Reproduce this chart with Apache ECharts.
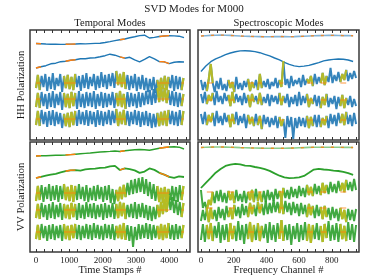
<!DOCTYPE html>
<html><head><meta charset="utf-8">
<script src="https://cdn.jsdelivr.net/npm/echarts/dist/echarts.min.js"></script>
<style>html,body{margin:0;padding:0;background:#fff}#c{width:374px;height:280px}</style>
</head><body><div id="c"></div><script>
// ---------- text ----------
const TITLE = 'SVD Modes for M000';
const COL_TITLES = ['Temporal Modes', 'Spectroscopic Modes'];
const ROW_TITLES = ['HH Polarization', 'VV Polarization'];
const X_NAMES = ['Time Stamps #', 'Frequency Channel #'];
const T_LABELS = [0, 1000, 2000, 3000, 4000];
const S_LABELS = [0, 200, 400, 600, 800];

// ---------- sampling ----------
const T_SMOOTH_STEP = 148, T_NOISE_STEP = 56;
const S_SMOOTH_STEP = 30, S_NOISE_STEP = 12;
const T_SEGS = [[0,150],[840,1200],[2380,2700],[3640,4010],[4360,4440]];
const S_SEGS = [[36,72],[168,204],[288,324],[348,372],[480,504],[648,684],[732,768],[852,888]];

// ---------- HH temporal ----------
const hhT1 = [96.5,96.3,96.0,95.8,95.9,95.6,95.7,95.9,96.0,96.2,96.1,96.4,96.6,96.8,97.5,98.4,99.4,100.3,101.0,102.2,103.2,104.4,104.8,102.0,102.6,103.5,104.0,104.4,104.1,103.8,102.4];
const hhT2 = [72.0,73.2,74.3,76.2,76.8,78.3,78.8,79.8,80.3,81.2,81.3,82.0,82.3,83.2,84.3,85.8,84.8,83.2,81.8,82.7,80.1,78.2,80.7,83.4,81.2,78.4,78.2,76.4,77.7,78.3,78.0];
const hhT3 = [52,65,50,64,53,66,49,63,51,67,50,62,54,66,48,64,52,65,51,63,
 50,66,53,64,49,65,52,67,51,63,54,66,50,64,52,68,53,65,51,66,
 54,67,52,69,55,66,53,68,51,65,50,64,52,66,49,63,51,65,50,62,
 48,61,50,63,47,60,49,62,51,64,50,63,52,65,49,64,51,63,50,62];
const hhT4 = [33,47,32,48,34,46,31,47,33,49,32,46,35,48,30,47,33,46,32,48,
 34,47,31,49,33,46,32,48,34,47,33,49,31,46,34,48,32,47,33,46,
 35,48,32,47,34,49,33,46,31,48,33,47,34,46,32,48,33,47,35,49,
 36,50,35,51,37,52,38,53,39,52,37,50,35,49,34,48,33,47,34,46];
const hhT5 = [15,29,14,30,16,28,13,29,15,30,14,28,16,27,12,26,14,27,13,28,
 15,29,14,30,16,28,15,30,14,29,16,28,13,30,15,29,14,28,16,30,
 15,29,17,31,14,28,16,30,15,29,14,28,16,30,15,29,13,28,15,29,
 14,27,12,26,13,27,14,28,15,29,14,30,16,29,15,28,14,30,15,29];
const hhTLevels = [57, 41, 21];

// ---------- HH spectroscopic ----------
const hhS1 = [104.0,104.3,104.6,104.8,104.9,104.8,104.6,104.3,104.0,103.8,103.6,103.5,103.4,103.3,103.3,103.4,103.5,103.4,103.3,103.4,103.6,103.8,104.0,104.2,104.4,104.5,104.6,104.6,104.5,104.4,104.4,104.3];
const hhS2 = [68.5,74.0,78.3,81.2,83.1,85.4,87.0,88.2,89.1,89.3,89.0,88.4,87.3,85.7,84.1,82.0,80.1,77.6,75.6,74.1,73.4,73.9,74.6,76.0,77.4,79.1,80.0,80.6,81.0,80.7,80.0,78.5];
const hhS3 = [60,50,58,49,61,76,57,48,59,51,62,50,56,49,60,52,58,48,63,51,
 57,50,59,53,61,49,58,52,60,50,66,52,59,53,61,51,58,54,62,52,
 60,53,79,55,61,52,64,54,60,56,62,53,65,55,61,57,64,54,66,56,
 63,57,67,55,64,58,72,57,65,59,68,58,66,60,70,59,67,61,69,62];
const hhS4 = [46,37,48,36,45,39,47,35,49,38,44,36,47,39,45,34,48,37,46,38,
 44,35,47,37,45,33,46,38,44,36,47,35,43,37,46,34,45,38,44,36,
 47,35,44,37,46,33,43,36,45,34,48,35,44,37,46,33,42,36,45,34,
 44,32,43,35,46,33,42,36,44,31,43,34,45,32,42,35,44,33,41,34];
const hhS5 = [26,16,28,15,25,18,27,14,29,17,24,15,27,18,25,13,26,16,28,15,
 24,17,26,12,25,16,23,14,26,15,24,11,25,16,23,13,22,15,24,12,
 23,14,21,2,24,13,23,1,22,12,23,14,22,13,24,12,23,14,25,13,
 25,13,22,15,24,12,26,16,25,14,27,17,26,15,28,16,25,14,27,16];
const hhSLevels = [57, 40, 20];

// ---------- VV temporal ----------
const vvT1 = [96.0,96.2,96.3,96.5,96.7,96.8,97.0,97.4,97.8,98.2,98.6,99.0,99.5,100.0,100.3,100.6,101.0,100.5,101.2,101.8,102.2,102.5,102.2,101.8,102.8,103.8,104.5,105.0,105.3,104.8,103.0];
const vvT2 = [74.0,75.2,76.3,77.4,78.2,79.6,80.8,81.7,81.9,81.3,82.6,83.1,83.4,84.2,84.4,85.6,86.1,82.0,83.6,82.9,81.6,79.1,80.4,83.6,82.1,79.2,77.4,75.1,74.2,75.6,75.0];
const vvT3 = [51,66,52,67,50,65,53,68,51,66,52,67,50,66,53,68,52,65,51,67,
 50,66,52,68,53,65,51,67,50,64,52,66,51,67,53,65,50,66,52,67,
 49,63,48,62,51,65,53,67,55,69,57,72,58,73,59,74,60,75,58,73,
 56,70,53,68,51,66,50,64,49,65,50,63,52,66,51,65,50,67,52,66];
const vvT4 = [34,48,33,49,35,47,32,48,34,50,33,47,35,49,32,48,34,47,33,49,
 35,48,32,49,34,47,33,50,35,48,34,49,33,47,35,48,32,49,34,47,
 35,49,33,48,34,50,36,49,33,47,35,48,34,50,33,48,35,49,34,47,
 32,46,31,45,33,47,35,50,38,53,40,57,42,55,39,52,37,50,35,49];
const vvT5 = [13,27,12,28,14,26,11,27,13,28,12,26,14,27,11,28,13,26,12,27,
 14,28,13,27,12,26,14,28,13,27,12,29,14,27,13,26,12,28,14,27,
 13,28,12,26,14,27,13,29,12,27,11,26,5,25,12,28,13,27,14,29,
 13,28,12,27,14,26,13,28,12,27,14,29,13,27,12,28,13,26,14,27];
const vvTLevels = [59, 42, 20];

// ---------- VV spectroscopic ----------
const vvS1 = [104.5,104.7,104.9,105.0,105.0,104.9,104.8,104.6,104.4,104.3,104.1,104.0,103.9,103.8,103.7,103.7,103.7,103.8,103.9,104.0,104.2,104.4,104.6,104.7,104.8,104.8,104.8,104.7,104.7,104.6,104.6,104.5];
const vvS2 = [64.0,69.2,74.1,79.3,83.0,86.1,87.4,88.1,87.6,86.4,86.1,85.0,84.2,82.8,81.1,78.6,76.3,74.6,73.9,74.2,74.6,76.1,79.2,82.4,83.1,82.5,82.1,81.4,81.0,80.2,78.8,77.1];
const vvS3 = [62,44,50,42,52,47,60,49,61,51,62,50,59,49,61,52,60,49,62,51,
 58,50,61,49,60,52,62,50,63,51,60,50,61,50,62,52,60,51,63,53,
 61,52,64,54,62,53,65,55,63,54,66,56,64,55,67,57,65,56,68,58,
 66,57,69,59,67,58,70,60,68,59,71,61,69,60,72,62,70,61,73,62];
const vvS4 = [31,42,32,43,30,44,33,42,31,45,34,43,32,46,35,44,33,47,36,45,
 34,48,37,46,35,49,38,47,36,50,39,48,37,51,38,49,39,52,40,50,
 39,52,38,51,40,49,37,50,39,48,36,49,38,47,35,48,37,46,34,47,
 36,45,33,46,35,44,32,45,34,43,31,44,33,42,30,43,32,42,31,43];
const vvS5 = [12,28,10,27,13,29,11,26,14,30,9,27,12,28,10,29,13,26,11,31,
 12,27,8,28,13,30,10,27,12,29,11,26,14,28,9,30,12,27,10,29,
 13,32,11,27,12,28,7,26,13,29,10,27,12,30,11,28,9,27,13,29,
 12,26,10,28,14,31,11,27,12,29,10,28,13,26,11,30,12,28,10,27];
const vvSLevels = [60, 44, 20];

// ---------- colours / style ----------
const BLUE = '#1f77b4', GREEN = '#2ca02c', ORANGE = '#ff7f0e', YELLOW = '#bcbd22';
const FONT = '"Liberation Serif","DejaVu Serif",serif';
const TXT = '#1a1a1a';

const panels = [
  {kind:'T', color:BLUE,  t1:hhT1, t2:hhT2, bands:[hhT3,hhT4,hhT5], levels:hhTLevels},
  {kind:'S', color:BLUE,  t1:hhS1, t2:hhS2, bands:[hhS3,hhS4,hhS5], levels:hhSLevels},
  {kind:'T', color:GREEN, t1:vvT1, t2:vvT2, bands:[vvT3,vvT4,vvT5], levels:vvTLevels},
  {kind:'S', color:GREEN, t1:vvS1, t2:vvS2, bands:[vvS3,vvS4,vvS5], levels:vvSLevels}
];
const grids = [
  {left:30, top:30, width:160, height:110},
  {left:198, top:30, width:161, height:110},
  {left:30, top:142, width:160, height:110},
  {left:198, top:142, width:161, height:110}
];

function seq(vals, step){ return vals.map((v,i)=>[i*step, v]); }
function pick(data, segs){ return data.map(p => segs.some(s => p[0]>=s[0] && p[0]<=s[1]) ? p : [p[0], '-']); }
function lvl(segs, y){ const o=[]; segs.forEach(s=>{ o.push([s[0],y],[s[1],y],[s[1],'-']); }); return o; }
function line(g, data, color, width, extra){
  return Object.assign({type:'line', xAxisIndex:g*2, yAxisIndex:g, data:data, symbol:'none', showSymbol:false,
    animation:false, silent:true, connectNulls:false, lineStyle:{color:color, width:width}}, extra||{});
}
function tickVals(kind){
  const o=[]; if(kind==='T'){ for(let v=0; v<=4500; v+=250) o.push(v); } else { for(let v=0; v<=950; v+=50) o.push(v); }
  return o;
}

const xAxes=[], yAxes=[], series=[];
panels.forEach((p,g)=>{
  const isT = p.kind==='T';
  const range = isT ? [-180,4620] : [-18,966];
  const ticks = tickVals(p.kind);
  const labels = isT ? T_LABELS : S_LABELS;
  ['bottom','top'].forEach(pos=>{
    xAxes.push({type:'value', gridIndex:g, position:pos, min:range[0], max:range[1],
      axisLine:{show:false}, splitLine:{show:false},
      axisTick:{show:true, inside:true, length:3, customValues:ticks, lineStyle:{color:'#333', width:1}},
      axisLabel:{show: pos==='bottom' && g>=2, customValues:labels, margin:4, fontFamily:FONT, fontSize:9, color:TXT,
        formatter: v => String(v)}
    });
  });
  yAxes.push({type:'value', gridIndex:g, min:0, max:110, show:false});
  const ss = isT ? T_SMOOTH_STEP : S_SMOOTH_STEP;
  const ns = isT ? T_NOISE_STEP : S_NOISE_STEP;
  const segs = isT ? T_SEGS : S_SEGS;
  const d1 = seq(p.t1, ss), d2 = seq(p.t2, ss);
  if (isT) {
    series.push(line(g, d1, p.color, 1.4));
    series.push(line(g, pick(d1, segs), ORANGE, 1.4));
  } else {
    series.push(line(g, d1, p.color, 1.6, {lineStyle:{color:p.color, width:1.6, opacity:0.55}}));
    series.push(line(g, d1, ORANGE, 1.4, {lineStyle:{color:ORANGE, width:1.4, type:[3,7], opacity:0.8}}));
  }
  series.push(line(g, d2, p.color, p.color===GREEN ? 1.8 : 1.4));
  series.push(line(g, pick(d2, segs), ORANGE, 1.4));
  p.bands.forEach((b,k)=>{
    const d = seq(b, ns);
    series.push(line(g, d, p.color, 2.0, {lineStyle:{color:p.color, width:2.0, opacity:0.9}}));
  });
  p.bands.forEach((b,k)=>{
    const d = seq(b, ns);
    series.push(line(g, pick(d, segs), YELLOW, 2.2, {lineStyle:{color:YELLOW, width:2.2, opacity:0.95}}));
    series.push(line(g, lvl(segs, p.levels[k]), ORANGE, 0.8));
  });
});

const gridOpts = grids.map(r=>Object.assign({show:true, borderColor:'#3a3a3a', borderWidth:1.5, backgroundColor:'transparent', containLabel:false}, r));

function txt(x,y,s,size,rot){
  return {type:'text', x:x, y:y, rotation: rot||0, silent:true,
    style:{text:s, fill:TXT, font: size+'px '+FONT, textAlign:'center', textVerticalAlign:'middle'}};
}
const graphic = [
  txt(194, 9, TITLE, 11),
  txt(110, 23.5, COL_TITLES[0], 10.5),
  txt(278.5, 23.5, COL_TITLES[1], 10.5),
  txt(21, 85, ROW_TITLES[0], 10.5, Math.PI/2),
  txt(21, 197, ROW_TITLES[1], 10.5, Math.PI/2),
  txt(110, 270, X_NAMES[0], 10.5),
  txt(278.5, 270, X_NAMES[1], 10.5)
];

const chart = echarts.init(document.getElementById('c'), null, {renderer:'canvas'});
chart.setOption({animation:false, backgroundColor:'#fff', grid:gridOpts, xAxis:xAxes, yAxis:yAxes, series:series, graphic:graphic});
</script></body></html>
